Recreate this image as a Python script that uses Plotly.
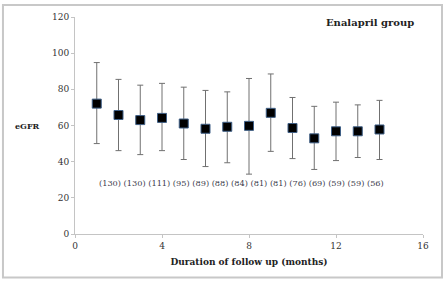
import plotly.graph_objects as go

months = [1, 2, 3, 4, 5, 6, 7, 8, 9, 10, 11, 12, 13, 14]
egfr_mean = [72.1, 65.8, 63.0, 64.2, 61.1, 58.2, 59.3, 59.8, 67.0, 58.6, 52.9, 56.8, 56.8, 57.8]
egfr_upper = [94.8, 85.5, 82.3, 83.3, 81.2, 79.4, 78.6, 86.0, 88.5, 75.5, 70.6, 72.9, 71.4, 73.9]
egfr_lower = [50.0, 46.1, 43.9, 46.1, 41.2, 37.3, 39.4, 33.1, 45.7, 41.7, 35.7, 40.6, 42.3, 41.2]
n_labels = ["(130)", "(130)", "(111)", "(95)", "(89)", "(88)", "(84)", "(81)", "(81)",
            "(76)", "(69)", "(59)", "(59)", "(56)"]
label_y = 28.4

err_plus = [u - m for u, m in zip(egfr_upper, egfr_mean)]
err_minus = [m - l for m, l in zip(egfr_mean, egfr_lower)]

serif = "DejaVu Serif"

fig = go.Figure()
fig.add_trace(go.Scatter(
    x=months, y=egfr_mean, mode="markers",
    marker=dict(symbol="square", size=9, color="black",
                line=dict(color="#3f5f86", width=1)),
    error_y=dict(type="data", symmetric=False, array=err_plus, arrayminus=err_minus,
                 color="#707070", thickness=1, width=3),
    showlegend=False,
))

fig.update_layout(
    width=448, height=282,
    margin=dict(l=75, r=25, t=15, b=48),
    paper_bgcolor="white", plot_bgcolor="white",
    xaxis=dict(range=[0, 16], tickvals=[0, 4, 8, 12, 16], showgrid=False, zeroline=False,
               showline=True, linecolor="#c4c4c4", linewidth=1,
               ticks="outside", ticklen=3, tickcolor="#c4c4c4",
               tickfont=dict(family=serif, size=9, color="#333333"),
               title=dict(text="<b>Duration of follow up (months)</b>",
                          font=dict(family=serif, size=9, color="#222222"), standoff=8)),
    yaxis=dict(range=[0, 120], tickvals=[0, 20, 40, 60, 80, 100, 120], showgrid=False, zeroline=False,
               showline=True, linecolor="#c4c4c4", linewidth=1,
               ticks="outside", ticklen=3, tickcolor="#c4c4c4",
               tickfont=dict(family=serif, size=9, color="#333333")),
    annotations=[
        dict(text=" ".join(n_labels), xref="x", yref="y", x=months[0], y=label_y,
             xanchor="left", yanchor="middle", showarrow=False,
             font=dict(family=serif, size=8.2, color="#3c3c4c")),
        dict(text="<b>Enalapril group</b>", xref="paper", yref="paper", x=0.98, y=0.975,
             xanchor="right", yanchor="middle", showarrow=False,
             font=dict(family=serif, size=10, color="#222222")),
        dict(text="<b>eGFR</b>", xref="paper", yref="y", x=-0.095, y=60,
             xanchor="right", yanchor="middle", showarrow=False,
             font=dict(family=serif, size=8, color="#222222")),
    ],
    shapes=[
        dict(type="rect", xref="paper", yref="paper", x0=-0.207, x1=1.0546, y0=-0.201, y1=1.0548,
             line=dict(color="#c8c8c8", width=2), fillcolor="rgba(0,0,0,0)"),
    ],
)

fig.write_html("out.html", config={"displayModeBar": False},
               post_script="document.body.style.margin='0';document.body.style.overflow='hidden';")
